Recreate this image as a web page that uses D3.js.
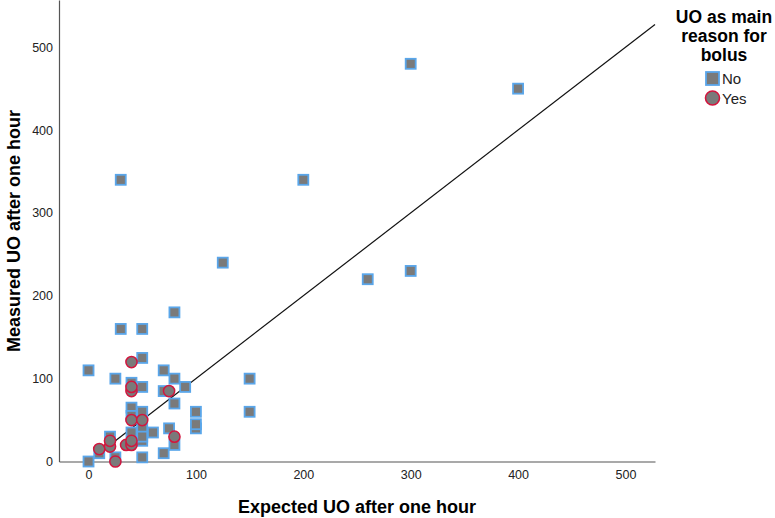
<!DOCTYPE html>
<html>
<head>
<meta charset="utf-8">
<script src="https://cdn.jsdelivr.net/npm/d3@7"></script>
<style>
  body { margin: 0; background: #fff; }
  text { font-family: "Liberation Sans", Arial, sans-serif; }
</style>
</head>
<body>
<script>
// expected / measured UO, split by "UO as main reason for bolus"
var noExpected = [0, 0, 10, 20, 25, 25, 30, 30, 40, 40, 40, 40, 50, 50, 50, 50, 50, 50, 50, 50, 50, 60,
    70, 70, 70, 75, 80, 80, 80, 80, 90, 100, 100, 100, 125, 150, 150, 200, 260, 300, 300, 400];
var noMeasured = [0, 110, 10, 30, 5, 100, 160, 340, 95, 65, 55, 35, 5, 25, 35, 40, 60, 90, 125, 160, 30, 35,
    10, 85, 110, 40, 20, 70, 100, 180, 90, 40, 45, 60, 240, 60, 100, 340, 220, 230, 480, 450];

var yesExpected = [25, 10, 20, 20, 35, 40, 40, 40, 50, 40, 40, 40, 75, 80];
var yesMeasured = [0, 15, 18, 25, 20, 20, 25, 50, 50, 85, 90, 120, 85, 30];

var ticks = [0, 100, 200, 300, 400, 500];
var groups = ["No", "Yes"];

var width = 775;
var height = 518;

var svg = d3.select("body")
    .append("svg")
    .attr("width", width)
    .attr("height", height);

var xScale = d3.scaleLinear()
    .domain([-27.5, 527.5])
    .range([59, 655]);

var yScale = d3.scaleLinear()
    .domain([0, 557])
    .range([461.5, 0]);

var xAxis = d3.axisBottom(xScale)
    .tickValues(ticks)
    .tickSize(0)
    .tickPadding(9);

var yAxis = d3.axisLeft(yScale)
    .tickValues(ticks)
    .tickSize(0)
    .tickPadding(6);

var gx = svg.append("g")
    .attr("transform", "translate(0," + yScale(0) + ")")
    .call(xAxis);

var gy = svg.append("g")
    .attr("transform", "translate(" + xScale(-27.5) + ",0)")
    .call(yAxis);

[gx, gy].forEach(function(g) {
    g.select(".domain").attr("stroke", "#555").attr("stroke-width", 1.2);
    g.selectAll(".tick text")
        .attr("fill", "#222")
        .style("font-size", "12.5px");
});

// reference line y = x
var maxVal = xScale.domain()[1];
svg.append("line")
    .attr("x1", xScale(0))
    .attr("y1", yScale(0))
    .attr("x2", xScale(maxVal))
    .attr("y2", yScale(maxVal))
    .attr("stroke", "#111")
    .attr("stroke-width", 1.2);

var fillGrey = "#7a7a7a";
var sq = 10;

svg.append("g")
    .selectAll("rect")
    .data(noExpected)
    .enter()
    .append("rect")
    .attr("x", function(d) { return xScale(d) - sq / 2; })
    .attr("y", function(d, i) { return yScale(noMeasured[i]) - sq / 2; })
    .attr("width", sq)
    .attr("height", sq)
    .attr("fill", fillGrey)
    .attr("stroke", "#5aa6ea")
    .attr("stroke-width", 1.8);

svg.append("g")
    .selectAll("circle")
    .data(yesExpected)
    .enter()
    .append("circle")
    .attr("cx", function(d) { return xScale(d); })
    .attr("cy", function(d, i) { return yScale(yesMeasured[i]); })
    .attr("r", 5.6)
    .attr("fill", fillGrey)
    .attr("stroke", "#d2163e")
    .attr("stroke-width", 1.5);

// axis titles
svg.append("text")
    .attr("x", 357)
    .attr("y", 513)
    .attr("text-anchor", "middle")
    .style("font-size", "18px")
    .style("font-weight", "bold")
    .text("Expected UO after one hour");

svg.append("text")
    .attr("transform", "translate(20,231) rotate(-90)")
    .attr("text-anchor", "middle")
    .style("font-size", "18px")
    .style("font-weight", "bold")
    .text("Measured UO after one hour");

// legend
var legend = svg.append("g");
["UO as main", "reason for", "bolus"].forEach(function(t, i) {
    legend.append("text")
        .attr("x", 724)
        .attr("y", 23 + i * 19)
        .attr("text-anchor", "middle")
        .style("font-size", "17.5px")
        .style("font-weight", "bold")
        .text(t);
});

legend.append("rect")
    .attr("x", 706)
    .attr("y", 72)
    .attr("width", 13)
    .attr("height", 13)
    .attr("fill", fillGrey)
    .attr("stroke", "#5aa6ea")
    .attr("stroke-width", 1.8);

legend.append("circle")
    .attr("cx", 712.5)
    .attr("cy", 98)
    .attr("r", 7)
    .attr("fill", fillGrey)
    .attr("stroke", "#d2163e")
    .attr("stroke-width", 1.6);

groups.forEach(function(g, i) {
    legend.append("text")
        .attr("x", 722)
        .attr("y", 84 + i * 19.5)
        .style("font-size", "15px")
        .attr("fill", "#222")
        .text(g);
});
</script>
</body>
</html>
